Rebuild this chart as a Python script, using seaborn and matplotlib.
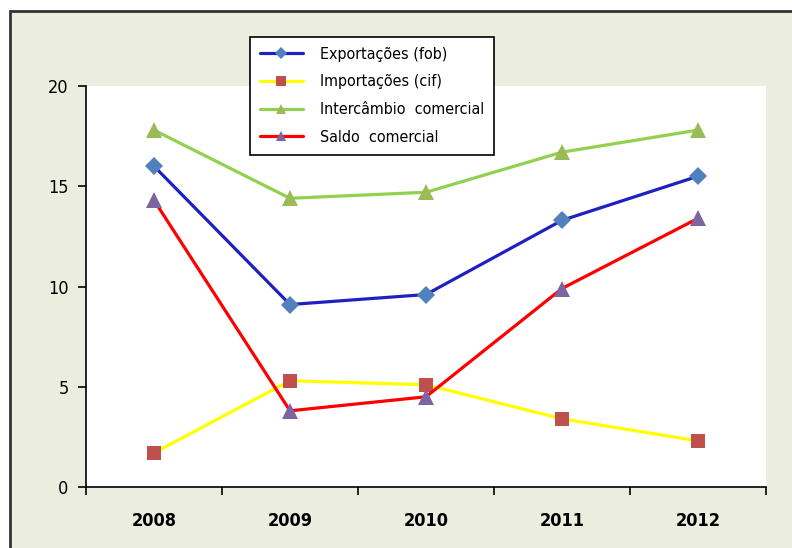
import matplotlib
matplotlib.use("Agg")
import matplotlib.pyplot as plt
from matplotlib.patches import Rectangle
import seaborn as sns
import numpy as np
import pandas as pd

# Values
years = ["2008", "2009", "2010", "2011", "2012"]
exportacoes = [16.0, 9.1, 9.6, 13.3, 15.5]
importacoes = [1.7, 5.3, 5.1, 3.4, 2.3]
intercambio = [17.8, 14.4, 14.7, 16.7, 17.8]
saldo = [14.3, 3.8, 4.5, 9.9, 13.4]

series_names = ["Exportações (fob)", "Importações (cif)",
                "Intercâmbio  comercial", "Saldo  comercial"]
line_colors = ["#2020C0", "#FFFF00", "#92D050", "#FF0000"]
marker_colors = ["#4F81BD", "#C0504D", "#9BBB59", "#8064A2"]
markers = ["D", "s", "^", "^"]
marker_sizes = [9, 10, 11, 11]

sns.set_style("white")
plt.rcParams['font.family'] = ['DejaVu Sans']
plt.rcParams['font.stretch'] = 'condensed'
plt.rcParams['text.color'] = 'black'
plt.rcParams['xtick.color'] = 'black'
plt.rcParams['ytick.color'] = 'black'

fig = plt.figure(figsize=(7.92, 5.48), dpi=100)
fig.patch.set_facecolor("white")

# beige chart frame (cropped on the right and bottom)
frame = Rectangle((10 / 792, -0.05), 1.2, (548 - 11) / 548 + 0.05,
                  transform=fig.transFigure, facecolor="#EBEEDF",
                  edgecolor="#333333", linewidth=2, zorder=-10)
fig.patches.append(frame)

ax = fig.add_axes([86 / 792, 61 / 548, 680 / 792, 401 / 548])
ax.set_facecolor("white")

x = np.arange(len(years))
data = [exportacoes, importacoes, intercambio, saldo]
for vals, name, lc, mc, mk, ms in zip(data, series_names, line_colors,
                                      marker_colors, markers, marker_sizes):
    df = pd.DataFrame({"x": x, "y": vals})
    sns.lineplot(data=df, x="x", y="y", ax=ax, color=lc, linewidth=2.3,
                 marker=mk, markersize=ms, markerfacecolor=mc,
                 markeredgecolor=mc, markeredgewidth=0, label=name)

ax.set_xlim(-0.5, len(years) - 0.5)
ax.set_ylim(0, 20)
ax.set_yticks([0, 5, 10, 15, 20])
ax.set_xticks(np.arange(-0.5, len(years)), labels=[])
ax.set_xticks(x, labels=years, minor=True)
ax.tick_params(axis="x", which="major", direction="out", length=6,
               width=1.2, color="black", bottom=True)
ax.tick_params(axis="x", which="minor", length=0, pad=18, labelsize=13)
for lab in ax.get_xticklabels(minor=True):
    lab.set_fontweight("bold")
ax.tick_params(axis="y", direction="out", length=5.5, width=1.2, pad=7,
               color="black", left=True, labelsize=13)
ax.set_xlabel("")
ax.set_ylabel("")

for side in ["top", "right"]:
    ax.spines[side].set_visible(False)
for side in ["left", "bottom"]:
    ax.spines[side].set_color("black")
    ax.spines[side].set_linewidth(1.2)

leg = ax.legend(loc="upper left", bbox_to_anchor=(250 / 792, 1 - 37 / 548),
                bbox_transform=fig.transFigure, frameon=True, fancybox=False,
                edgecolor="black", fontsize=11.5, handlelength=2.7,
                borderpad=0.6, labelspacing=0.8, handletextpad=1.1,
                borderaxespad=0, markerscale=0.65, framealpha=1)
leg.get_frame().set_linewidth(1.2)

fig.savefig("out.png", dpi=100)
